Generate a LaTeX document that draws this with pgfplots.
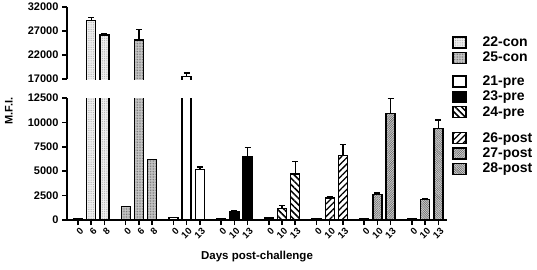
\documentclass[border=0pt]{standalone}
\usepackage{fontspec}
\setmainfont{Liberation Sans}
\usepackage{pgfplots}
\pgfplotsset{compat=1.18}
\usetikzlibrary{patterns.meta}

\tikzset{
  s22/.style={preaction={fill=gray!12}, pattern={Dots[distance=1.8pt,radius=0.45pt]}, pattern color=gray!75},
  s25/.style={preaction={fill=gray!40}, pattern={Dots[distance=1.6pt,radius=0.5pt]}, pattern color=gray!85!black},
  s21/.style={fill=white},
  s23/.style={fill=black},
  s24/.style={preaction={fill=white}, pattern={Lines[angle=-45,distance=4.5pt,line width=1.5pt]}, pattern color=black},
  s26/.style={preaction={fill=white}, pattern={Lines[angle=45,distance=4.5pt,line width=1.3pt]}, pattern color=black},
  s27/.style={preaction={fill=gray!35}, pattern={Lines[angle=45,distance=1.6pt,line width=0.55pt]}, pattern color=gray!75!black},
  s28/.style={preaction={fill=gray!35}, pattern={Lines[angle=-45,distance=1.6pt,line width=0.55pt]}, pattern color=gray!75!black},
}

\pgfplotsset{
  base/.style={
    scale only axis, width=380pt, xmin=0, xmax=380,
    axis line style={line width=1.5pt},
    tick style={line width=1.5pt, black},
    major tick length=5pt,
    tick align=outside,
    scaled y ticks=false,
    ticklabel style={font=\bfseries\fontsize{11}{11}\selectfont},
    /pgf/number format/assume math mode=true,
    legend image code/.code={\draw[##1, draw=black, line width=1.4pt] (0pt,-5.5pt) rectangle (13pt,5.5pt);},
    legend cell align=left,
    legend style={draw=none, fill=none, anchor=north west, inner sep=0pt, row sep=0pt,
      font=\bfseries\fontsize{14}{14}\selectfont,
      /tikz/every odd column/.append style={column sep=14pt}},
  },
  barst/.style={ybar, bar width=9, bar shift=0pt, draw=black, line width=1.4pt, forget plot,
    error bars/y dir=plus, error bars/y explicit,
    error bars/error bar style={line width=1.4pt},
    error bars/error mark options={rotate=90, mark size=3pt, line width=1.4pt}},
}

\newcommand{\allbars}{%
  \addplot[barst, s22] coordinates {(11,100) +- (0,0) (24.2,29200) +- (0,600) (37.4,26200) +- (0,200)};
  \addplot[barst, s25] coordinates {(58.7,1400) +- (0,0) (71.9,25100) +- (0,2250) (85.1,6200) +- (0,0)};
  \addplot[barst, s21] coordinates {(106.4,230) +- (0,0) (119.6,17500) +- (0,750) (132.8,5200) +- (0,220)};
  \addplot[barst, s23] coordinates {(154.1,100) +- (0,0) (167.3,900) +- (0,80) (180.5,6500) +- (0,900)};
  \addplot[barst, s24] coordinates {(201.8,200) +- (0,0) (215.0,1150) +- (0,350) (228.2,4700) +- (0,1300)};
  \addplot[barst, s26] coordinates {(249.5,100) +- (0,0) (262.7,2270) +- (0,70) (275.9,6600) +- (0,1150)};
  \addplot[barst, s27] coordinates {(297.2,100) +- (0,0) (310.4,2620) +- (0,130) (323.6,10900) +- (0,1550)};
  \addplot[barst, s28] coordinates {(344.9,130) +- (0,0) (358.1,2130) +- (0,40) (371.3,9400) +- (0,850)};
}

\begin{document}
\begin{tikzpicture}
\useasboundingbox (0,0) rectangle (537pt,269pt);

% lower panel
\begin{axis}[base,
  at={(67pt,49pt)}, anchor=south west, height=122pt,
  ymin=0, ymax=12500,
  axis x line*=bottom, axis y line*=left,
  ytick={0,2500,5000,7500,10000,12500},
  yticklabels={0,2500,5000,7500,10000,12500},
  xtick={11,24.2,37.4,58.7,71.9,85.1,106.4,119.6,132.8,154.1,167.3,180.5,201.8,215.0,228.2,249.5,262.7,275.9,297.2,310.4,323.6,344.9,358.1,371.3},
  xticklabels={0,6,8,0,6,8,0,10,13,0,10,13,0,10,13,0,10,13,0,10,13,0,10,13},
  xticklabel style={rotate=45, anchor=north east, font=\bfseries\fontsize{9.5}{9.5}\selectfont, xshift=3pt, yshift=1pt},
  xlabel={Days post-challenge},
  xlabel style={at={(axis description cs:0.5,-0.30)}, anchor=center, font=\bfseries\fontsize{11.5}{11.5}\selectfont},
  ylabel={M.F.I.},
  ylabel style={at={(axis description cs:-0.153,0.893)}, anchor=center, font=\bfseries\fontsize{11}{11}\selectfont},
  legend style={at={(axis description cs:1.013,1.20)}},
]
\allbars
\addlegendimage{s21}\addlegendentry{21-pre}
\addlegendimage{s23}\addlegendentry{23-pre}
\addlegendimage{s24}\addlegendentry{24-pre}
\end{axis}

% upper panel (ymin extended by 1000 and hidden, so bars have no bottom edge)
\begin{axis}[base,
  at={(67pt,185.2pt)}, anchor=south west, height=76.8pt,
  ymin=16000, ymax=32000,
  axis x line*=bottom, axis y line*=left,
  x axis line style={draw=none},
  y axis line style={shorten <=4.8pt},
  xtick=\empty,
  ytick={17000,22000,27000,32000},
  yticklabels={17000,22000,27000,32000},
  legend style={at={(axis description cs:1.013,0.64)}},
]
\clip (axis cs:-20,17000) rectangle (axis cs:400,40000);
\allbars
\addlegendimage{s22}\addlegendentry{22-con}
\addlegendimage{s25}\addlegendentry{25-con}
\end{axis}

% legend holder for post group
\begin{axis}[base,
  at={(67pt,49pt)}, anchor=south west, height=122pt,
  ymin=0, ymax=12500, hide axis,
  legend style={at={(axis description cs:1.013,0.735)}},
]
\addlegendimage{s26}\addlegendentry{26-post}
\addlegendimage{s27}\addlegendentry{27-post}
\addlegendimage{s28}\addlegendentry{28-post}
\end{axis}
\end{tikzpicture}
\end{document}
